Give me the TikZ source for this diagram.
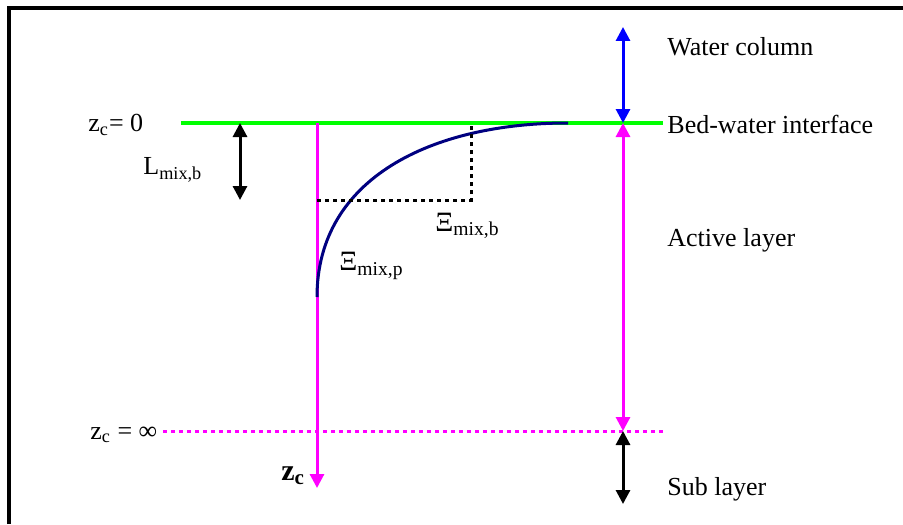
\documentclass[tikz,border=0pt]{standalone}
\usepackage{fontspec}
\setmainfont{Liberation Serif}
\usetikzlibrary{arrows.meta}

\tikzset{
  lbl/.style={inner sep=0pt, anchor=west},
  dbl/.style={<->, line width=1.5pt},
  dots/.style={line width=1.5pt, dash pattern=on 2pt off 2pt}
}
\definecolor{navyblue}{RGB}{0,0,128}
\definecolor{pinkline}{RGB}{255,0,255}
\definecolor{greenline}{RGB}{0,255,0}
\definecolor{blueline}{RGB}{0,0,255}
\newcommand{\Xig}{\symbol{"039E}}

\begin{document}
\begin{tikzpicture}[x=0.5pt, y=-0.5pt, >={Triangle[length=7pt,width=7pt]},
    font=\fontsize{13}{15}\selectfont]
  \useasboundingbox (0,0) rectangle (903,524);

  % Frame (top and left edges)
  \draw[line width=1.6pt] (9,524) -- (9,8) -- (903,8);

  % Reference points
  \coordinate (bedL)   at (181,123);
  \coordinate (bedR)   at (663,123);
  \coordinate (subL)   at (163,431);
  \coordinate (subR)   at (663,431);
  \coordinate (axTop)  at (317,123);
  \coordinate (axBot)  at (317,488);
  \coordinate (curveA) at (317,297);
  \coordinate (curveB) at (568,123);
  \coordinate (boxL)   at (317,200);
  \coordinate (boxC)   at (471,200);
  \coordinate (boxT)   at (471,123);
  \coordinate (lmTop)  at (240,123);
  \coordinate (lmBot)  at (240,200);
  \coordinate (colTop) at (623,27);
  \coordinate (colBed) at (623,123);
  \coordinate (colSub) at (623,431);
  \coordinate (colBot) at (623,504);

  % Bed-water interface and lower bound
  \draw[greenline, line width=1.6pt] (bedL) -- (bedR);
  \draw[pinkline, dots] (subL) -- (subR);

  % Vertical coordinate axis
  \draw[->, pinkline, line width=1.5pt] (axTop) -- (axBot);

  % Mixing profile
  \draw[navyblue, line width=1.5pt] (curveA) .. controls (317,178) and (432,123) .. (curveB);
  \draw[dots] (boxL) -- (boxC) -- (boxT);

  % Mixing depth
  \draw[dbl, black] (lmTop) -- (lmBot);

  % Layer extents
  \draw[dbl, blueline] (colTop) -- (colBed);
  \draw[dbl, pinkline] (colBed) -- (colSub);
  \draw[dbl, black]    (colSub) -- (colBot);

  % Left-hand labels
  \node[lbl] (zzero) at (88,125) {z\textsubscript{c}= 0};
  \node[lbl] (zinf)  at (90,435) {z\textsubscript{c} = ∞};
  \node[lbl] (lmix)  at (143,170) {L\textsubscript{mix,b}};
  \node[lbl, font=\fontsize{15}{17}\selectfont\bfseries] (zc) at (281,476) {z\textsubscript{c}};

  % Profile labels
  \node[lbl] (ximb) at (435,226) {\fontsize{14}{16}\selectfont\Xig\textsubscript{mix,b}};
  \node[lbl] (ximp) at (339,266) {\fontsize{14}{16}\selectfont\Xig\textsubscript{mix,p}};

  % Layer names
  \node[lbl] (water)  at (667,47)  {Water column};
  \node[lbl] (bedw)   at (667,124) {Bed-water interface};
  \node[lbl] (active) at (667,240) {Active layer};
  \node[lbl] (sub)    at (667,489) {Sub layer};
\end{tikzpicture}
\end{document}
